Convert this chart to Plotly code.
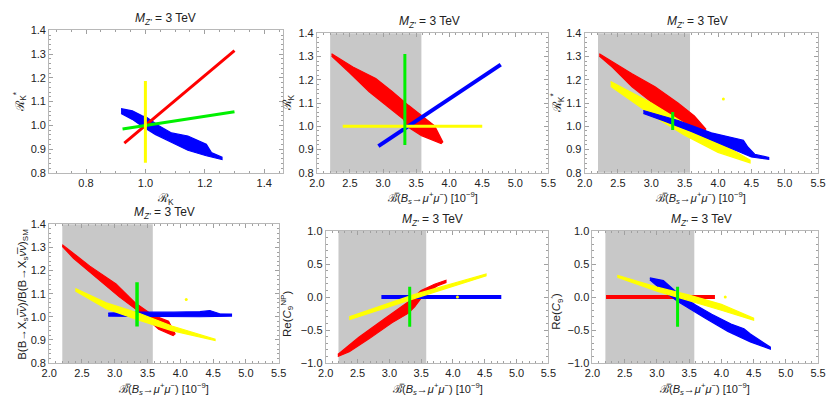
import plotly.graph_objects as go

W, H = 829, 402

# ---------------- data ----------------
# Panel 1: R_K (x) vs R_K* (y)
p1_red_x = [0.929, 1.300]
p1_red_y = [0.925, 1.314]
p1_green_x = [0.923, 1.300]
p1_green_y = [0.985, 1.057]
p1_yellow_x = [1.0, 1.0]
p1_yellow_y = [0.843, 1.187]
p1_blue_x = [0.918, 0.956, 0.989, 1.005, 1.044, 1.088, 1.143, 1.190, 1.205, 1.222, 1.258,
             1.258, 1.205, 1.143, 1.088, 1.033, 0.989, 0.956, 0.918]
p1_blue_y = [1.070, 1.061, 1.040, 1.033, 0.999, 0.968, 0.955, 0.930, 0.920, 0.886, 0.866,
             0.856, 0.872, 0.895, 0.928, 0.962, 0.996, 1.025, 1.050]

# Panel 2: Bs->mumu (x) vs R_K (y)
p2_red_x = [2.222, 2.544, 2.890, 3.137, 3.384, 3.582, 3.780, 3.903,
            3.878, 3.582, 3.360, 3.310, 3.087, 2.790, 2.494, 2.222]
p2_red_y = [1.312, 1.255, 1.205, 1.150, 1.090, 1.045, 1.002, 0.933,
            0.926, 0.960, 1.000, 1.030, 1.080, 1.148, 1.230, 1.302]
p2_blue_x = [2.93, 4.78]
p2_blue_y = [0.915, 1.265]
p2_green_x = [3.33, 3.33]
p2_green_y = [0.92, 1.31]
p2_yellow_x = [2.39, 4.50]
p2_yellow_y = [1.0, 1.0]

# Panel 3: Bs->mumu (x) vs R_K* (y)
p3_red_x = [2.22, 2.71, 3.055, 3.40, 3.645, 3.816, 3.79, 3.50, 3.30, 3.055, 2.71, 2.417, 2.22]
p3_red_y = [1.312, 1.226, 1.170, 1.100, 1.044, 0.988, 0.980, 1.009, 1.044, 1.093, 1.170, 1.253, 1.302]
p3_yellow_x = [2.39, 3.00, 3.50, 4.00, 4.48, 4.48, 4.00, 3.50, 3.00, 2.39]
p3_yellow_y = [1.192, 1.100, 1.012, 0.935, 0.855, 0.843, 0.888, 0.962, 1.050, 1.172]
p3_blue_x = [2.88, 3.40, 3.90, 4.20, 4.38, 4.45, 4.55, 4.76,
             4.76, 4.50, 4.00, 3.60, 3.20, 2.88]
p3_blue_y = [1.068, 1.025, 0.972, 0.950, 0.940, 0.910, 0.880, 0.866,
             0.858, 0.868, 0.928, 0.978, 1.022, 1.055]
p3_green_x = [3.32, 3.32]
p3_green_y = [0.984, 1.061]
p3_dot_x = [4.08]
p3_dot_y = [1.117]

# Panel 4: Bs->mumu (x) vs B(B->Xs nu nu)/SM (y)
p4_red_x = [2.20, 2.62, 3.02, 3.32, 3.57, 3.82, 3.92, 3.89, 3.67, 3.37, 3.07, 2.72, 2.37, 2.20]
p4_red_y = [1.312, 1.219, 1.142, 1.058, 1.009, 0.981, 0.926, 0.919, 0.946, 1.023, 1.086, 1.170, 1.253, 1.305]
p4_blue_x = [2.90, 3.40, 3.90, 4.30, 4.45, 4.52, 4.60, 4.78, 4.78, 4.30, 3.40, 2.90]
p4_blue_y = [1.016, 1.020, 1.020, 1.022, 1.027, 1.020, 1.013, 1.012, 1.003, 1.000, 1.000, 1.003]
p4_yellow_x = [2.40, 2.87, 3.37, 3.87, 4.53, 4.53, 3.87, 3.37, 2.87, 2.40]
p4_yellow_y = [1.122, 1.060, 1.015, 0.960, 0.903, 0.897, 0.940, 0.985, 1.035, 1.112]
p4_green_x = [3.34, 3.34]
p4_green_y = [0.958, 1.149]
p4_dot_x = [4.09]
p4_dot_y = [1.075]

# Panel 5: Bs->mumu (x) vs Re(C9^NP) (y)
p5_red_x = [2.19, 2.52, 2.94, 3.30, 3.50, 3.71, 3.89, 3.89, 3.76, 3.55, 3.40, 3.30, 3.04, 2.68, 2.37, 2.19]
p5_red_y = [-0.870, -0.610, -0.317, -0.073, 0.098, 0.195, 0.254, 0.220, 0.171, 0.049,
            -0.146, -0.244, -0.390, -0.634, -0.829, -0.902]
p5_yellow_x = [2.37, 3.40, 4.52, 4.52, 3.40, 2.37]
p5_yellow_y = [-0.300, 0.040, 0.350, 0.320, -0.020, -0.345]
p5_blue_x = [2.875, 4.76]
p5_blue_y = [0.0, 0.0]
p5_green_x = [3.32, 3.32]
p5_green_y = [-0.449, 0.156]
p5_dot_x = [4.07]
p5_dot_y = [0.0]

# Panel 6: Bs->mumu (x) vs Re(C9') (y)
p6_red_x = [2.21, 3.90]
p6_red_y = [0.0, 0.0]
p6_blue_x = [2.89, 3.10, 3.33, 3.60, 3.85, 4.15, 4.35, 4.45, 4.76,
             4.76, 4.45, 4.10, 3.75, 3.33, 3.05, 2.89]
p6_blue_y = [0.29, 0.25, 0.05, -0.12, -0.26, -0.41, -0.48, -0.56, -0.76,
             -0.79, -0.68, -0.52, -0.32, -0.07, 0.13, 0.26]
p6_yellow_x = [2.385, 3.0, 3.5, 4.0, 4.50, 4.50, 4.0, 3.5, 3.0, 2.385]
p6_yellow_y = [0.33, 0.15, 0.03, -0.11, -0.32, -0.35, -0.20, -0.05, 0.09, 0.30]
p6_green_x = [3.32, 3.32]
p6_green_y = [-0.449, 0.156]
p6_dot_x = [4.06]
p6_dot_y = [0.0]

# experimental Bs->mumu band
band_lo, band_hi = 2.2, 3.58

title_text = "<i>M</i><sub><i>Z'</i></sub> = 3 TeV"
bs_title = "ℬ̅(<i>B</i><sub><i>s</i></sub>→<i>μ</i><sup>+</sup><i>μ</i><sup>−</sup>) [10<sup>−9</sup>]"

RED, BLUE, GREEN, YELLOW, GRAY = "#ff0000", "#0000ff", "#00f000", "#ffff00", "#c8c8c8"

# ---------------- layout of panels (pixel frames) ----------------
panels = [
    dict(box=(42, 25, 280, 172), xr=(0.676, 1.462), yr=(0.8, 1.4), xd=0.2, xm=0.05, yd=0.1, ym=0.02, band=False),
    dict(box=(315, 28, 551, 172), xr=(2.0, 5.5), yr=(0.8, 1.4), xd=0.5, xm=0.1, yd=0.1, ym=0.02, band=True),
    dict(box=(588, 28, 826, 172), xr=(2.0, 5.5), yr=(0.8, 1.4), xd=0.5, xm=0.1, yd=0.1, ym=0.02, band=True),
    dict(box=(42, 225, 276, 368), xr=(2.0, 5.5), yr=(0.8, 1.4), xd=0.5, xm=0.1, yd=0.1, ym=0.02, band=True),
    dict(box=(324, 232, 551, 368), xr=(2.0, 5.5), yr=(-1.0, 1.0), xd=0.5, xm=0.1, yd=0.5, ym=0.1, band=True),
    dict(box=(596, 232, 826, 368), xr=(2.0, 5.5), yr=(-1.0, 1.0), xd=0.5, xm=0.1, yd=0.5, ym=0.1, band=True),
]

FONT = "Liberation Sans, Arial, sans-serif"
TICKSIZE = 11
fig = go.Figure()
layout = dict(width=W, height=H, margin=dict(l=0, r=0, t=0, b=0), showlegend=False,
              paper_bgcolor="white", plot_bgcolor="white",
              font=dict(family=FONT, size=TICKSIZE, color="#222"))
shapes = []
for i, p in enumerate(panels, start=1):
    x0, y0, x1, y1 = p["box"]
    ax_common = dict(showgrid=False, zeroline=False, showline=True, linecolor="#b8b8b8", linewidth=1,
                     mirror="allticks", ticks="inside", ticklen=4, tickcolor="#a0a0a0", tickwidth=1,
                     tickfont=dict(family=FONT, size=TICKSIZE, color="#222"), tickformat=".1f")
    xa = dict(ax_common, domain=[x0 / W, x1 / W], range=list(p["xr"]), dtick=p["xd"], tick0=0,
              anchor="y%d" % i if i > 1 else "y",
              minor=dict(ticks="inside", ticklen=2, dtick=p["xm"], tick0=0, tickcolor="#a0a0a0"))
    ya = dict(ax_common, domain=[1 - y1 / H, 1 - y0 / H], range=list(p["yr"]), dtick=p["yd"], tick0=0,
              anchor="x%d" % i if i > 1 else "x",
              minor=dict(ticks="inside", ticklen=2, dtick=p["ym"], tick0=0, tickcolor="#a0a0a0"))
    layout["xaxis" if i == 1 else "xaxis%d" % i] = xa
    layout["yaxis" if i == 1 else "yaxis%d" % i] = ya
    if p["band"]:
        shapes.append(dict(type="rect", xref="x%d" % i, yref="y%d domain" % i,
                           x0=band_lo, x1=band_hi, y0=0, y1=1, fillcolor=GRAY,
                           line=dict(width=0), layer="below"))
layout["shapes"] = shapes


def ax(i):
    return ("x", "y") if i == 1 else ("x%d" % i, "y%d" % i)


def band(i, xs, ys, color):
    xa, ya = ax(i)
    fig.add_trace(go.Scatter(x=xs, y=ys, mode="lines", fill="toself", fillcolor=color,
                             line=dict(color=color, width=1.2), xaxis=xa, yaxis=ya, hoverinfo="skip"))


def line(i, xs, ys, color, w=3):
    xa, ya = ax(i)
    fig.add_trace(go.Scatter(x=xs, y=ys, mode="lines", line=dict(color=color, width=w),
                             xaxis=xa, yaxis=ya, hoverinfo="skip"))


def dot(i, xs, ys, color):
    xa, ya = ax(i)
    fig.add_trace(go.Scatter(x=xs, y=ys, mode="markers", marker=dict(color=color, size=3),
                             xaxis=xa, yaxis=ya, hoverinfo="skip"))


# Panel 1
band(1, p1_blue_x, p1_blue_y, BLUE)
line(1, p1_red_x, p1_red_y, RED, 3)
line(1, p1_green_x, p1_green_y, GREEN, 3)
line(1, p1_yellow_x, p1_yellow_y, YELLOW, 3)
# Panel 2
band(2, p2_red_x, p2_red_y, RED)
line(2, p2_blue_x, p2_blue_y, BLUE, 4)
line(2, p2_yellow_x, p2_yellow_y, YELLOW, 3)
line(2, p2_green_x, p2_green_y, GREEN, 3)
# Panel 3
band(3, p3_red_x, p3_red_y, RED)
band(3, p3_yellow_x, p3_yellow_y, YELLOW)
band(3, p3_blue_x, p3_blue_y, BLUE)
line(3, p3_green_x, p3_green_y, GREEN, 3)
dot(3, p3_dot_x, p3_dot_y, YELLOW)
# Panel 4
band(4, p4_red_x, p4_red_y, RED)
band(4, p4_blue_x, p4_blue_y, BLUE)
band(4, p4_yellow_x, p4_yellow_y, YELLOW)
line(4, p4_green_x, p4_green_y, GREEN, 3.5)
dot(4, p4_dot_x, p4_dot_y, YELLOW)
# Panel 5
band(5, p5_red_x, p5_red_y, RED)
line(5, p5_blue_x, p5_blue_y, BLUE, 4)
band(5, p5_yellow_x, p5_yellow_y, YELLOW)
line(5, p5_green_x, p5_green_y, GREEN, 3)
dot(5, p5_dot_x, p5_dot_y, YELLOW)
# Panel 6
line(6, p6_red_x, p6_red_y, RED, 4)
band(6, p6_blue_x, p6_blue_y, BLUE)
band(6, p6_yellow_x, p6_yellow_y, YELLOW)
line(6, p6_green_x, p6_green_y, GREEN, 3)
dot(6, p6_dot_x, p6_dot_y, YELLOW)


# ---------------- texts ----------------
def ann(px, py, text, angle=0, size=11):
    return dict(x=px / W, y=1 - py / H, xref="paper", yref="paper", text=text, showarrow=False,
                textangle=angle, xanchor="center", yanchor="middle",
                font=dict(family=FONT, size=size, color="#222"))


annotations = [
    ann(161, 13, title_text, size=12), ann(430, 16, title_text, size=12), ann(703, 16, title_text, size=12),
    ann(160, 213, title_text, size=12), ann(433, 221, title_text, size=12), ann(707, 221, title_text, size=12),
    # x titles
    ann(161, 199, "ℛ<sub>K</sub>", size=12),
    ann(433, 198, bs_title), ann(707, 198, bs_title),
    ann(159, 395, bs_title), ann(438, 395, bs_title), ann(711, 395, bs_title),
    # y titles
    ann(12, 98, "ℛ<sub>K</sub><sup>*</sup>", -90, size=12),
    ann(286, 100, "ℛ<sub>K</sub>", -90, size=12),
    ann(560, 100, "ℛ<sub>K</sub><sup>*</sup>", -90, size=12),
    ann(15, 297, "B(B→X<sub>s</sub><i>ν̅ν</i>)/B(B→X<sub>s</sub><i>ν̅ν</i>)<sub>SM</sub>", -90, size=11.5),
    ann(284, 317, "Re(<i>C</i><sub>9</sub><sup>NP</sup>)", -90, size=11.5),
    ann(559, 315, "Re(<i>C</i><sub>9</sub><sup>′</sup>)", -90, size=11.5),
]
layout["annotations"] = annotations
fig.update_layout(**layout)
fig.write_html("out.html")
